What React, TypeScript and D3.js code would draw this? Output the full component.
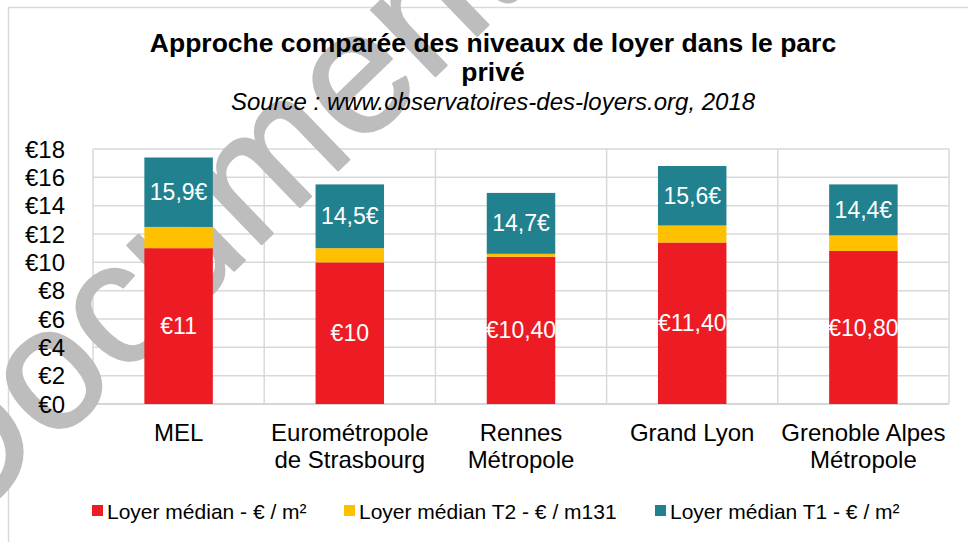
import React, { useEffect, useRef } from "react";
import * as d3 from "d3";

// categories (multi-line labels)
const categories = [
  ["MEL"],
  ["Eurométropole", "de Strasbourg"],
  ["Rennes", "Métropole"],
  ["Grand Lyon"],
  ["Grenoble Alpes", "Métropole"],
];

// Loyer médian - € / m²
const medianValues = [11, 10, 10.4, 11.4, 10.8];
const medianLabels = ["€11", "€10", "€10,40", "€11,40", "€10,80"];
// Loyer médian T2 (segment height as read on the chart)
const t2Values = [1.5, 1.0, 0.2, 1.2, 1.1];
// Loyer médian T1 (labels), segment = T1 - median
const t1Values = [15.9, 14.5, 14.7, 15.6, 14.4];
const t1Labels = ["15,9€", "14,5€", "14,7€", "15,6€", "14,4€"];

const yTicks = [0, 2, 4, 6, 8, 10, 12, 14, 16, 18];

const seriesNames = [
  "Loyer médian - € / m²",
  "Loyer médian T2 - € / m131",
  "Loyer médian T1 - € / m²",
];
const colors = ["#ed1c24", "#ffc000", "#21818f"];

const W = 968;
const H = 542;
const FONT = "'Liberation Sans', Arial, sans-serif";

const App = () => {
  const svgRef = useRef(null);

  useEffect(() => {
    const svg = d3.select(svgRef.current);
    svg.selectAll("*").remove();

    const plot = { left: 93, right: 949, top: 149, bottom: 404 };

    const keys = categories.map((c) => c.join(" "));
    const x = d3
      .scaleBand()
      .domain(keys)
      .range([plot.left, plot.right])
      .paddingInner(0.6)
      .paddingOuter(0.3);
    const step = x.step();

    const y = d3.scaleLinear().domain([0, 18]).range([plot.bottom, plot.top]);

    // chart border
    svg
      .append("rect")
      .attr("x", 8.5)
      .attr("y", 7.5)
      .attr("width", 1000)
      .attr("height", 1000)
      .attr("fill", "#fff")
      .attr("stroke", "#d9d9d9")
      .attr("stroke-width", 1.5);

    // horizontal gridlines
    svg
      .append("g")
      .selectAll("line")
      .data(yTicks)
      .enter()
      .append("line")
      .attr("x1", plot.left)
      .attr("x2", plot.right)
      .attr("y1", (d) => y(d))
      .attr("y2", (d) => y(d))
      .attr("stroke", (d) => (d === 0 ? "#c8c8c8" : "#d9d9d9"))
      .attr("stroke-width", 1.5);

    // vertical gridlines at category boundaries
    const bounds = d3.range(keys.length + 1).map((i) => plot.left + i * step);
    svg
      .append("g")
      .selectAll("line")
      .data(bounds)
      .enter()
      .append("line")
      .attr("x1", (d) => d)
      .attr("x2", (d) => d)
      .attr("y1", y(18))
      .attr("y2", y(0))
      .attr("stroke", "#d9d9d9")
      .attr("stroke-width", 1.5);

    // watermark (behind bars)
    svg
      .append("text")
      .attr("transform", "translate(246,259) rotate(-44)")
      .attr("text-anchor", "middle")
      .attr("font-family", FONT)
      .attr("font-size", 174)
      .attr("fill", "#bdbdbd")
      .attr("stroke", "#bdbdbd")
      .attr("stroke-width", 2.5)
      .attr("stroke-linejoin", "round")
      .text("Document");

    // stacked data
    const rows = keys.map((k, i) => ({
      key: k,
      median: medianValues[i],
      t2: t2Values[i],
      t1: +(t1Values[i] - medianValues[i]).toFixed(2),
    }));
    const stack = d3.stack().keys(["median", "t2", "t1"]);
    const stacked = stack(rows);

    svg
      .append("g")
      .selectAll("g")
      .data(stacked)
      .enter()
      .append("g")
      .attr("fill", (d, i) => colors[i])
      .selectAll("rect")
      .data((d) => d)
      .enter()
      .append("rect")
      .attr("x", (d) => x(d.data.key))
      .attr("y", (d) => y(d[1]))
      .attr("width", x.bandwidth())
      .attr("height", (d) => y(d[0]) - y(d[1]));

    // data labels
    const labelSets = [
      { layer: stacked[0], labels: medianLabels },
      { layer: stacked[2], labels: t1Labels },
    ];
    labelSets.forEach(({ layer, labels }) => {
      svg
        .append("g")
        .selectAll("text")
        .data(layer)
        .enter()
        .append("text")
        .attr("x", (d) => x(d.data.key) + x.bandwidth() / 2)
        .attr("y", (d) => (y(d[0]) + y(d[1])) / 2)
        .attr("text-anchor", "middle")
        .attr("dominant-baseline", "central")
        .attr("font-family", FONT)
        .attr("font-size", 23)
        .attr("fill", "#fff")
        .text((d, i) => labels[i]);
    });

    // y axis labels
    svg
      .append("g")
      .selectAll("text")
      .data(yTicks)
      .enter()
      .append("text")
      .attr("x", 65)
      .attr("y", (d) => y(d))
      .attr("text-anchor", "end")
      .attr("dominant-baseline", "central")
      .attr("font-family", FONT)
      .attr("font-size", 24)
      .attr("fill", "#000")
      .text((d) => "€" + d);

    // x axis labels
    const xl = svg
      .append("g")
      .selectAll("text")
      .data(categories)
      .enter()
      .append("text")
      .attr("text-anchor", "middle")
      .attr("font-family", FONT)
      .attr("font-size", 24)
      .attr("fill", "#000");
    xl.selectAll("tspan")
      .data((d) => d.map((line) => ({ line, key: d.join(" ") })))
      .enter()
      .append("tspan")
      .attr("x", (d) => x(d.key) + x.bandwidth() / 2)
      .attr("y", (d, i) => 441 + i * 27)
      .text((d) => d.line);

    // title
    const title = svg
      .append("g")
      .attr("font-family", FONT)
      .attr("text-anchor", "middle")
      .attr("fill", "#000");
    title
      .append("text")
      .attr("x", 493)
      .attr("y", 52)
      .attr("font-size", 26.5)
      .attr("font-weight", "bold")
      .text("Approche comparée des niveaux de loyer dans le parc");
    title
      .append("text")
      .attr("x", 493)
      .attr("y", 81)
      .attr("font-size", 26.5)
      .attr("font-weight", "bold")
      .text("privé");
    title
      .append("text")
      .attr("x", 493)
      .attr("y", 110)
      .attr("font-size", 24)
      .attr("font-style", "italic")
      .text("Source : www.observatoires-des-loyers.org, 2018");

    // legend
    const legendX = [92, 344, 655];
    const legend = svg
      .append("g")
      .selectAll("g")
      .data(seriesNames)
      .enter()
      .append("g")
      .attr("transform", (d, i) => `translate(${legendX[i]},505)`);
    legend
      .append("rect")
      .attr("width", 11)
      .attr("height", 11)
      .attr("fill", (d, i) => colors[i]);
    legend
      .append("text")
      .attr("x", 15)
      .attr("y", 14)
      .attr("font-family", FONT)
      .attr("font-size", 21)
      .attr("fill", "#000")
      .text((d) => d);
  }, []);

  return (
    <svg
      ref={svgRef}
      width={W}
      height={H}
      style={{ position: "absolute", left: 0, top: 0, display: "block" }}
    />
  );
};

export default App;
